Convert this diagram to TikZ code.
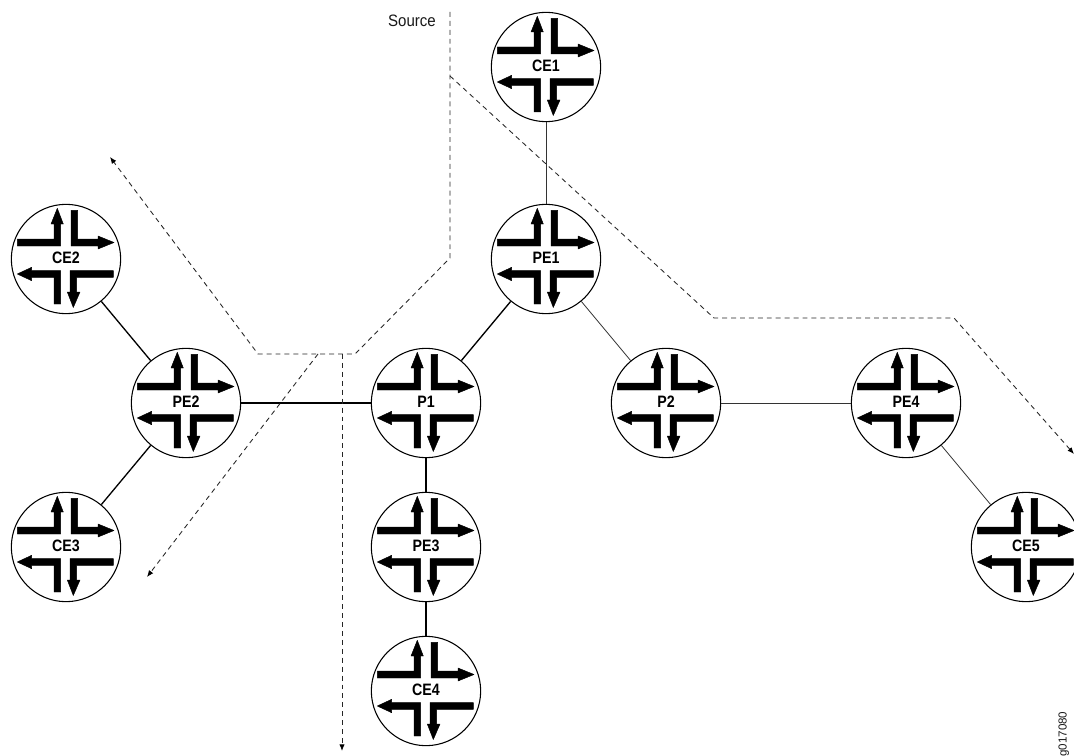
\documentclass[tikz,border=0pt]{standalone}
\usepackage{fontspec}
\setmainfont{Liberation Sans}
\usetikzlibrary{arrows.meta}
\tikzset{
  routerbox/.style={circle,draw=black,fill=white,line width=0.8pt,minimum size=82pt,inner sep=0pt,font=\fontsize{12.4pt}{13pt}\selectfont\bfseries,text=black},
  arrowshape/.style={fill=black,draw=black,line width=0.35pt,line join=round},
  linkthin/.style={draw=black!80,line width=0.6pt},
  linkthick/.style={draw=black,line width=1pt},
  flow/.style={draw=black!85,line width=0.65pt,dash pattern=on 3.7pt off 3pt},
  flowend/.style={flow,-{Latex[length=5pt,width=4pt,black]}},
  plain/.style={font=\fontsize{12.4pt}{13pt}\selectfont,text=black!90}
}
\newcommand{\router}[4]{%
  \node[routerbox] (#1) at (#2,#3) {\raisebox{1.2pt}{\scalebox{0.86}[1]{\textbf{#4}}}};
  \begin{scope}[shift={(#2,#3)}]
    \path[arrowshape] (-48.7,-20) -- (-12,-20) -- (-12,-35) -- (-15,-35) -- (-8.7,-50.7) -- (-2.7,-35) -- (-5.3,-35) -- (-5.3,-13) -- (-48.7,-13) -- cycle;
    \path[arrowshape] (5,-48.7) -- (11.7,-48.7) -- (11.7,-20) -- (32,-20) -- (32,-23) -- (48,-16.5) -- (32,-10) -- (32,-13) -- (5,-13) -- cycle;
    \path[arrowshape] (-5.3,45) -- (-12,45) -- (-12,18.3) -- (-34.3,18.3) -- (-34.3,21.7) -- (-48.7,15) -- (-34.3,8.3) -- (-34.3,11.7) -- (-5.3,11.7) -- cycle;
    \path[arrowshape] (47.3,11.7) -- (47.3,18.3) -- (10.7,18.3) -- (10.7,33) -- (14,33) -- (7.3,48.5) -- (1.3,33) -- (4,33) -- (4,11.7) -- cycle;
  \end{scope}}
\begin{document}
\begin{tikzpicture}[x=0.75pt,y=-0.75pt]
\useasboundingbox (0,0) rectangle (1074,756);
\clip (0,0) rectangle (1074,756);
\fill[white] (0,0) rectangle (1074,756);
% routers
\router{CEa}{546}{67}{CE1}
\router{PEa}{546}{259}{PE1}
\router{CEb}{66}{259}{CE2}
\router{PEb}{186}{403}{PE2}
\router{Pa}{426}{403}{P1}
\router{Pb}{666}{403}{P2}
\router{PEd}{906}{403}{PE4}
\router{CEc}{66}{547}{CE3}
\router{PEc}{426}{547}{PE3}
\router{CEd}{426}{691}{CE4}
\router{CEe}{1026}{547}{CE5}
% links
\draw[linkthin] (CEa) -- (PEa);
\draw[linkthick] (PEa) -- (Pa);
\draw[linkthin] (PEa) -- (Pb);
\draw[linkthick] (CEb) -- (PEb);
\draw[linkthick] (CEc) -- (PEb);
\draw[linkthick] (PEb) -- (Pa);
\draw[linkthin] (Pb) -- (PEd);
\draw[linkthin] (PEd) -- (CEe);
\draw[linkthick] (Pa) -- (PEc);
\draw[linkthick] (PEc) -- (CEd);
% flows
\coordinate (srcTop) at (450,12);
\coordinate (srcBend) at (450,258);
\coordinate (lowR) at (355,354);
\coordinate (lowL) at (258,354);
\coordinate (endNW) at (110,157);
\coordinate (brA) at (342,354);
\coordinate (endS) at (342,751);
\coordinate (brB) at (318,354);
\coordinate (endSW) at (147,577);
\coordinate (brC) at (450,76);
\coordinate (rA) at (714,318);
\coordinate (rB) at (954,318);
\coordinate (endE) at (1074,454);
\draw[flowend] (srcTop) -- (srcBend) -- (lowR) -- (lowL) -- (endNW);
\draw[flowend] (brA) -- (endS);
\draw[flowend] (brB) -- (endSW);
\draw[flowend] (brC) -- (rA) -- (rB) -- (endE);
% text
\node[plain] (srcLabel) at (412,21) {\scalebox{0.91}[1]{Source}};
\node[rotate=90,anchor=base west,inner sep=0pt,text=black!90,font=\fontsize{8.7pt}{9pt}\selectfont] (figId) at (1066.5,757) {g017080};
\end{tikzpicture}
\end{document}
